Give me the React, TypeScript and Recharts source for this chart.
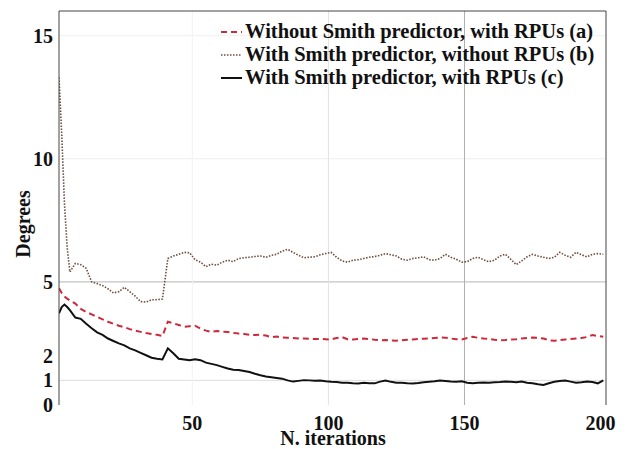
import { LineChart, Line, XAxis, YAxis, ReferenceLine } from "recharts";

// x positions: every iteration for the first few, then every 2nd
const iterations = [1, 2, 3, 4, ...Array.from({ length: 99 }, (_, i) => 5 + 2 * i)];

// (a) Without Smith predictor, with RPUs
const seriesA = [
    4.74, 4.55, 4.4, 4.32, 4.25, 4.12, 3.9, 3.78, 3.68, 3.58,
    3.48, 3.38, 3.3, 3.22, 3.16, 3.08, 3.02, 2.97, 2.92, 2.88,
    2.85, 2.8, 3.38, 3.32, 3.25, 3.18, 3.2, 3.22, 3.1, 3.02,
    2.97, 3.0, 2.98, 2.96, 2.93, 2.9, 2.88, 2.85, 2.84, 2.85,
    2.82, 2.76, 2.78, 2.74, 2.73, 2.72, 2.7, 2.7, 2.69, 2.68,
    2.68, 2.67, 2.66, 2.72, 2.76, 2.67, 2.66, 2.68, 2.7, 2.68,
    2.65, 2.63, 2.64, 2.62, 2.61, 2.63, 2.65, 2.66, 2.68, 2.69,
    2.7, 2.72, 2.74, 2.73, 2.7, 2.67, 2.66, 2.72, 2.77, 2.73,
    2.7, 2.68, 2.65, 2.63, 2.64, 2.66, 2.67, 2.7, 2.72, 2.74,
    2.73, 2.7, 2.63, 2.61, 2.64, 2.66, 2.68, 2.7, 2.72, 2.76,
    2.84, 2.8, 2.77,
];

// (b) With Smith predictor, without RPUs
const seriesB = [
    13.3, 11.0, 8.2, 6.4, 5.4, 5.75, 5.7, 5.55, 5.0, 4.93,
    4.85, 4.72, 4.55, 4.6, 4.78, 4.6, 4.42, 4.2, 4.18, 4.27,
    4.28, 4.3, 5.95, 6.05, 6.12, 6.2, 6.18, 5.9, 5.8, 5.62,
    5.72, 5.68, 5.8, 5.88, 5.82, 5.95, 5.98, 6.0, 6.03, 6.05,
    6.0, 6.08, 6.12, 6.25, 6.32, 6.2, 6.08, 5.98, 6.0, 6.02,
    6.1, 6.15, 6.2, 6.0, 5.85, 5.8, 5.88, 5.9, 5.95, 6.0,
    6.03, 6.08, 6.15, 6.1, 6.05, 5.92, 5.88, 5.95, 5.98, 6.02,
    5.9, 5.88, 5.95, 6.12, 6.0, 5.92, 5.8, 5.82, 5.95, 6.0,
    5.9, 5.82, 5.88, 6.05, 6.12, 5.92, 5.7, 5.85, 6.02, 6.12,
    6.05, 6.0, 5.95, 6.0, 6.2, 6.08, 6.0, 6.2, 6.1, 6.02,
    6.12, 6.15, 6.12,
];

// (c) With Smith predictor, with RPUs
const seriesC = [
    3.72, 3.98, 4.08, 3.98, 3.85, 3.55, 3.5, 3.3, 3.12, 2.95,
    2.85, 2.7, 2.6, 2.5, 2.42, 2.3, 2.22, 2.12, 2.02, 1.92,
    1.88, 1.85, 2.3, 2.1, 1.88, 1.85, 1.82, 1.86, 1.82, 1.72,
    1.67, 1.62, 1.55, 1.48, 1.43, 1.42, 1.38, 1.34, 1.27, 1.21,
    1.16, 1.13, 1.1, 1.07, 1.0, 0.95, 0.98, 1.01, 1.0, 0.98,
    0.99, 0.96, 0.94, 0.93, 0.9, 0.9, 0.88, 0.87, 0.9, 0.88,
    0.88, 0.95, 0.99, 0.94, 0.9, 0.9, 0.88, 0.87, 0.89, 0.92,
    0.94, 0.96, 0.99, 0.97, 0.95, 0.94, 0.96, 0.9, 0.88, 0.9,
    0.91, 0.9, 0.92, 0.93, 0.95, 0.94, 0.92, 0.95, 0.9, 0.88,
    0.84, 0.81, 0.88, 0.94, 0.97, 0.99, 0.95, 0.9, 0.92, 0.95,
    0.93, 0.88, 1.0,
];

const xTicks = [50, 100, 150, 200];
const yTicks = [0, 1, 2, 5, 10, 15];

const legendItems = [
    { label: "Without Smith predictor, with RPUs (a)", stroke: "#cc2a3c", dash: "6 4", width: 2 },
    { label: "With Smith predictor, without RPUs (b)", stroke: "#6e4b3c", dash: "1.5 1.5", width: 1.6 },
    { label: "With Smith predictor, with RPUs (c)", stroke: "#111", dash: undefined, width: 2 },
];

const data = iterations.map((it, i) => ({ it, a: seriesA[i], b: seriesB[i], c: seriesC[i] }));

const font = "'Liberation Serif', 'Times New Roman', serif";
const tickStyle = { fill: "#111", fontSize: 20, fontFamily: font, fontWeight: 700 };

export default function App() {
    return (
        <div style={{ position: "absolute", left: 0, top: 0, width: 629, height: 449, background: "#fff" }}>
            <LineChart width={629} height={449} data={data} margin={{ top: 11, right: 23, left: 0, bottom: 14 }}>
                <ReferenceLine y={15} stroke="#f0f0f0" />
                <ReferenceLine y={10} stroke="#eeeeee" />
                <ReferenceLine y={5} stroke="#c4c4c4" strokeWidth={1.2} />
                <ReferenceLine y={1} stroke="#dedede" />
                <ReferenceLine x={50} stroke="#f2f2f2" />
                <ReferenceLine x={100} stroke="#e2e2e2" />
                <ReferenceLine x={150} stroke="#b0b0b0" />
                <ReferenceLine y={16} stroke="#444" />
                <ReferenceLine x={202} stroke="#444" />

                <XAxis
                    dataKey="it"
                    type="number"
                    domain={[1, 202]}
                    ticks={xTicks}
                    interval={0}
                    height={30}
                    axisLine={false}
                    tickLine={false}
                    tickSize={4}
                    tickMargin={7}
                    tick={tickStyle}
                    allowDataOverflow
                    label={{
                        content: () => (
                            <text x={333} y={445} textAnchor="middle" style={tickStyle as any} fill="#111">
                                N. iterations
                            </text>
                        ),
                    }}
                />
                <YAxis
                    width={59}
                    domain={[0, 16]}
                    ticks={yTicks}
                    interval={0}
                    axisLine={{ stroke: "#444" }}
                    tickLine={false}
                    tickSize={4}
                    tickMargin={2}
                    tick={tickStyle}
                    allowDataOverflow
                    label={{
                        content: () => (
                            <text
                                x={23}
                                y={224}
                                transform="rotate(-90 23 224)"
                                textAnchor="middle"
                                dominantBaseline="central"
                                style={tickStyle as any}
                                fill="#111"
                            >
                                Degrees
                            </text>
                        ),
                    }}
                />

                <Line type="linear" dataKey="b" stroke="#6e4b3c" strokeWidth={1.6} strokeDasharray="1.5 1.5" dot={false} isAnimationActive={false} />
                <Line type="linear" dataKey="a" stroke="#cc2a3c" strokeWidth={2} strokeDasharray="6 4" dot={false} isAnimationActive={false} />
                <Line type="linear" dataKey="c" stroke="#111" strokeWidth={2} dot={false} isAnimationActive={false} />
            </LineChart>

            <div style={{ position: "absolute", left: 221, top: 20, fontFamily: font, fontWeight: 700, fontSize: 20.5, color: "#111" }}>
                {legendItems.map((item) => (
                    <div key={item.label} style={{ display: "flex", alignItems: "center", height: 23, whiteSpace: "nowrap" }}>
                        <svg width={22} height={10} style={{ marginRight: 2 }}>
                            <line x1={0} y1={5} x2={21} y2={5} stroke={item.stroke} strokeWidth={item.width} strokeDasharray={item.dash} />
                        </svg>
                        <span>{item.label}</span>
                    </div>
                ))}
            </div>
        </div>
    );
}
